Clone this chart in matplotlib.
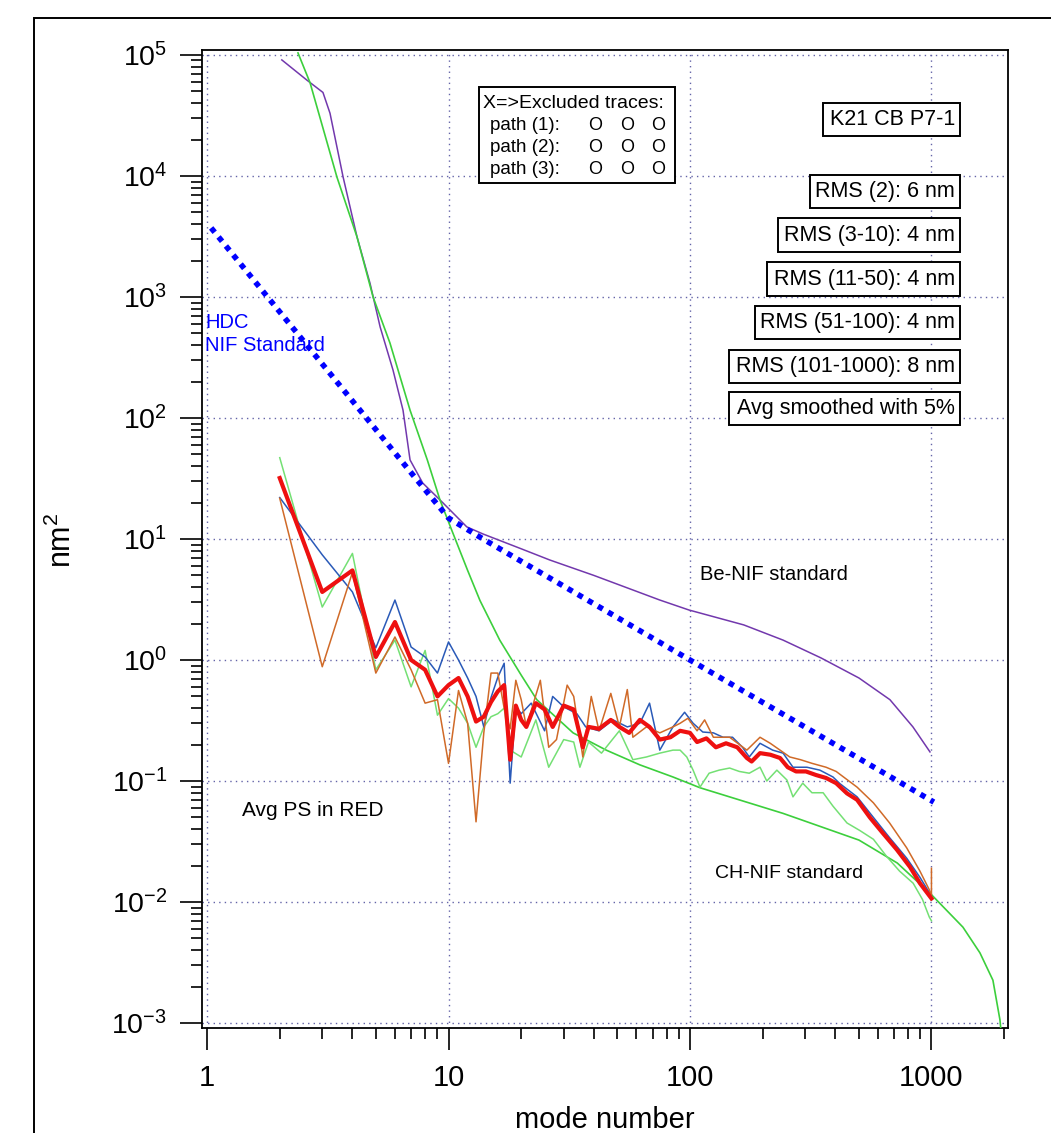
import numpy as np
import matplotlib
matplotlib.use('Agg')
import matplotlib.pyplot as plt
from matplotlib.patches import Rectangle
from matplotlib.ticker import FuncFormatter, NullFormatter, LogLocator

plt.rcParams['font.family'] = ['Liberation Sans', 'DejaVu Sans']
plt.rcParams['mathtext.fontset'] = 'custom'
plt.rcParams['mathtext.rm'] = 'Liberation Sans'
plt.rcParams['mathtext.it'] = 'Liberation Sans:italic'

# ---- data ----
# Be-NIF standard (purple)
be_modes = [2.04, 2.59, 3.02, 3.23, 3.66, 4.18, 4.73, 5.21, 5.89, 6.48, 6.93, 7.82, 9.48,
            11.9, 13.9, 20, 26.3, 40, 75, 99, 167, 243, 349, 501, 673, 838, 986]
be_vals = [9.1e4, 6.2e4, 4.9e4, 3.3e4, 9800, 3130, 1300, 565, 249, 116, 45, 29, 19.9,
           12.6, 11.0, 8.3, 6.7, 5.0, 3.13, 2.59, 1.95, 1.46, 1.04, 0.71, 0.47, 0.28, 0.174]

# CH-NIF standard (green)
ch_modes = [2.38, 2.67, 3.45, 4.18, 4.87, 5.72, 6.93, 8.17, 9.22, 10.3, 12, 13.5, 16.3,
            20, 23.2, 32.8, 45, 62, 85, 110, 243, 501, 722, 1000, 1350, 1588, 1797, 1922,
            1960]
ch_vals = [1.04e5, 5.9e4, 9800, 3130, 1000, 417, 116, 45, 21, 11.9, 5.5, 3.1, 1.46, 0.75,
           0.47, 0.25, 0.18, 0.136, 0.108, 0.088, 0.054, 0.0325, 0.021, 0.0115, 0.0062,
           0.0038, 0.00226, 0.00106, 0.0007]

# HDC NIF standard (blue dotted)
hdc_modes = [1.04, 7.4, 10, 13.9, 100, 1023]
hdc_vals = [3720, 30.8, 14.9, 10.0, 1.0, 0.067]

# measured traces
blue_modes = [2, 3, 4, 5, 6, 7, 8, 9, 10, 11, 12, 13, 14, 15, 16, 17, 18, 19, 20, 22, 25,
              27, 30, 34, 37, 42, 48, 55, 62, 68, 75, 85, 95, 103, 113, 125, 137, 150,
              165, 176, 195, 220, 243, 267, 305, 345, 391, 418, 492, 575, 671, 790, 896,
              1000]
blue_vals = [22, 7.4, 3.65, 1.26, 3.13, 1.28, 1.06, 0.78, 1.41, 1.0, 0.71, 0.50, 0.28,
             0.49, 0.72, 0.94, 0.096, 0.41, 0.36, 0.44, 0.26, 0.50, 0.41, 0.36, 0.28,
             0.26, 0.32, 0.28, 0.30, 0.44, 0.18, 0.28, 0.37, 0.30, 0.254, 0.25, 0.23,
             0.23, 0.19, 0.158, 0.205, 0.18, 0.17, 0.13, 0.13, 0.123, 0.108, 0.095,
             0.074, 0.050, 0.034, 0.023, 0.016, 0.0112]

orange_modes = [2, 3, 4, 5, 6, 7, 8, 9, 10, 11, 12, 13, 14, 15, 16, 17, 18, 19, 20, 21,
                24, 26, 28, 31, 33, 36, 39, 42, 47, 51, 55, 58, 66, 75, 85, 91, 98, 107,
                115, 125, 146, 172, 195, 215, 236, 259, 287, 320, 366, 403, 492, 575,
                671, 790, 896, 980, 1000, 1000]
orange_vals = [21.7, 0.88, 5.3, 0.78, 1.55, 0.83, 0.44, 0.47, 0.14, 0.56, 0.30, 0.046,
               0.25, 0.78, 0.78, 0.40, 0.27, 0.68, 0.47, 0.28, 0.68, 0.19, 0.22, 0.62,
               0.50, 0.158, 0.50, 0.26, 0.53, 0.28, 0.57, 0.23, 0.28, 0.25, 0.28, 0.30,
               0.33, 0.26, 0.32, 0.23, 0.23, 0.18, 0.23, 0.205, 0.18, 0.158, 0.15, 0.14,
               0.13, 0.12, 0.089, 0.066, 0.045, 0.028, 0.018, 0.0126, 0.011, 0.019]

lgreen_modes = [2, 3, 4, 5, 6, 7, 8, 9, 10, 11, 12, 13, 14, 15, 16, 17, 18, 20, 23, 26,
                30, 33, 35, 38, 43, 51, 58, 66, 75, 85, 91, 97, 103, 110, 120, 132, 146,
                160, 176, 195, 208, 229, 252, 267, 293, 320, 356, 391, 447, 505, 575, 650,
                738, 840, 918, 980, 1000]
lgreen_vals = [47, 2.74, 7.6, 0.83, 1.46, 0.6, 1.2, 0.35, 0.48, 0.40, 0.30, 0.19, 0.28,
               0.34, 0.36, 0.40, 0.18, 0.158, 0.32, 0.13, 0.22, 0.21, 0.13, 0.21, 0.17,
               0.26, 0.15, 0.158, 0.17, 0.18, 0.18, 0.158, 0.123, 0.089, 0.116, 0.123,
               0.128, 0.12, 0.116, 0.13, 0.10, 0.123, 0.102, 0.074, 0.096, 0.08, 0.08,
               0.062, 0.045, 0.039, 0.033, 0.024, 0.018, 0.0143, 0.0105, 0.0075, 0.007]

# average PS (red)
avg_modes = [2, 3, 4, 5, 6, 7, 8, 9, 10, 11, 12, 13, 14, 15, 16, 17, 18, 19, 20, 21, 23,
             25, 27, 30, 33, 36, 38, 42, 47, 51, 56, 62, 68, 75, 83, 91, 100, 107, 117,
             128, 141, 157, 172, 180, 195, 215, 236, 254, 275, 302, 333, 366, 403, 447,
             492, 556, 630, 720, 815, 896, 1000]
avg_vals = [31.9, 3.65, 5.5, 1.06, 2.06, 1.0, 0.83, 0.5, 0.62, 0.71, 0.5, 0.31, 0.34,
            0.45, 0.55, 0.62, 0.15, 0.42, 0.32, 0.28, 0.44, 0.39, 0.28, 0.42, 0.39, 0.19,
            0.28, 0.27, 0.32, 0.28, 0.25, 0.32, 0.28, 0.22, 0.23, 0.26, 0.25, 0.21, 0.225,
            0.19, 0.205, 0.19, 0.155, 0.145, 0.17, 0.165, 0.155, 0.13, 0.12, 0.12, 0.112,
            0.106, 0.096, 0.079, 0.070, 0.050, 0.037, 0.027, 0.0195, 0.0143, 0.0107]

rms_boxes = ["K21 CB P7-1", "RMS (2): 6 nm", "RMS (3-10): 4 nm", "RMS (11-50): 4 nm",
             "RMS (51-100): 4 nm", "RMS (101-1000): 8 nm", "Avg smoothed with 5%"]
paths = ["path (1):", "path (2):", "path (3):"]

# ---- figure ----
W, H = 1051, 1133
fig = plt.figure(figsize=(W / 100, H / 100), dpi=100)


def fx(px):
    return px / W


def fy(py):
    return 1 - py / H


ax = fig.add_axes([fx(202), fy(1028), fx(1008) - fx(202), fy(50) - fy(1028)])
ax.set_xscale('log')
ax.set_yscale('log')

ax.plot(be_modes, be_vals, color='#7238ad', lw=1.1, zorder=3)
ax.plot(ch_modes, ch_vals, color='#3ccf3c', lw=1.2, zorder=3)
ax.plot(lgreen_modes, lgreen_vals, color='#74e074', lw=1.1, zorder=4)
ax.plot(blue_modes, blue_vals, color='#2a5ab8', lw=1.1, zorder=5)
ax.plot(orange_modes, orange_vals, color='#d06a28', lw=1.1, zorder=6)
ax.plot(avg_modes, avg_vals, color='#ee1010', lw=3.0, zorder=7)
ax.plot(hdc_modes, hdc_vals, color='#0000ff', lw=4, ls=(0, (1, 1.1)),
        dash_capstyle='butt', zorder=8)

ax.set_xlim(0.953, 2075)
ax.set_ylim(10 ** -3.041, 10 ** 5.041)

ax.xaxis.set_major_locator(LogLocator(base=10, numticks=10))
ax.yaxis.set_major_locator(LogLocator(base=10, numticks=20))
ax.xaxis.set_minor_locator(LogLocator(base=10, subs=np.arange(2, 10), numticks=50))
ax.yaxis.set_minor_locator(LogLocator(base=10, subs=np.arange(2, 10), numticks=100))
ax.xaxis.set_major_formatter(FuncFormatter(lambda v, p: f'{v:g}'))
ax.xaxis.set_minor_formatter(NullFormatter())
ax.yaxis.set_minor_formatter(NullFormatter())

ax.tick_params(which='major', direction='out', length=16, width=1.2, labelsize=20.5,
               pad=9, top=False, right=False)
ax.tick_params(which='minor', direction='out', length=8, width=1.2, top=False, right=False)
ax.tick_params(axis='x', which='major', labelsize=21, pad=10)
for s in ax.spines.values():
    s.set_linewidth(1.3)

ax.grid(True, which='major', ls=(0, (1, 3)), color='#6464a8', lw=1.0)
ax.set_axisbelow(True)

# axis titles
fig.text(fx(62), fy(540), 'nm$^2$', rotation=90, ha='center', va='center', fontsize=22)
fig.text(fx(605), fy(1128), 'mode number', ha='center', va='baseline', fontsize=21)

# outer frame
fig.add_artist(Rectangle((fx(34), fy(1150)), 1.0, fy(18) - fy(1150),
                         transform=fig.transFigure, fill=False, ec='black', lw=1.4))

# annotations
fig.text(fx(205), fy(322), 'HDC', color='#0000ff', fontsize=14.5, ha='left', va='center')
fig.text(fx(205), fy(346), 'NIF Standard', color='#0000ff', fontsize=14.5, ha='left',
         va='center')
fig.text(fx(700), fy(575), 'Be-NIF standard', fontsize=14.5, ha='left', va='center')
fig.text(fx(242), fy(810), 'Avg PS in RED', fontsize=15, ha='left', va='center')
fig.text(fx(715), fy(873), 'CH-NIF standard', fontsize=14, ha='left', va='center')

# excluded traces box
fig.add_artist(Rectangle((fx(479), fy(183)), fx(675) - fx(479), fy(87) - fy(183),
                         transform=fig.transFigure, fc='white', ec='black', lw=1.4,
                         zorder=9))
fig.text(fx(483), fy(103), 'X=>Excluded traces:', fontsize=14, ha='left',
         va='center', zorder=10)
for i, p in enumerate(paths):
    yy = fy(125 + 22 * i)
    fig.text(fx(490), yy, p, fontsize=13.5, ha='left', va='center', zorder=10)
    for cx in (595, 627, 658):
        fig.text(fx(cx), yy, 'O', fontsize=13, ha='center', va='center', zorder=10)

# RMS boxes
box_px = [(823, 103, 960, 136), (810, 175, 960, 208), (778, 218, 960, 252),
          (767, 262, 960, 296), (755, 306, 960, 339), (729, 350, 960, 383),
          (729, 392, 960, 425)]
for label, (l, t, r, b) in zip(rms_boxes, box_px):
    fig.add_artist(Rectangle((fx(l), fy(b)), fx(r) - fx(l), fy(t) - fy(b),
                             transform=fig.transFigure, fc='white', ec='black', lw=1.4,
                             zorder=9))
    fig.text(fx(r - 5), fy((t + b) / 2), label, fontsize=15.5, ha='right', va='center',
             zorder=10)

fig.savefig('out.png', dpi=100)
